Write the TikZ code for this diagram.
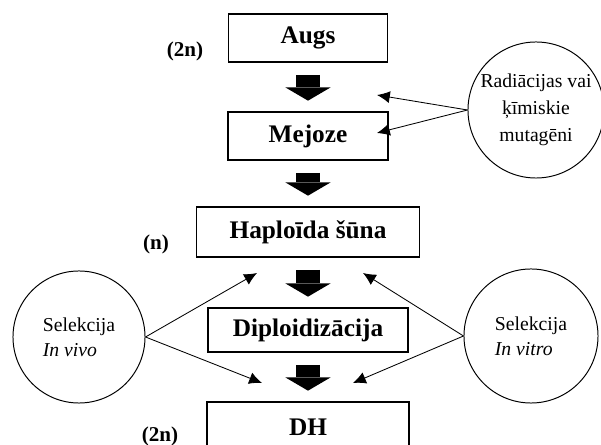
\documentclass[tikz,border=0pt]{standalone}
\usepackage{fontspec}
\setmainfont{Liberation Serif}
\usepackage{tikz}
\usetikzlibrary{arrows.meta,shapes,positioning}
\tikzstyle{stagebox} = [draw, line width=1.3pt, inner sep=0pt, font=\bfseries\fontsize{18}{21}\selectfont]
\tikzstyle{ploidy} = [font=\bfseries\fontsize{15}{17}\selectfont]
\tikzstyle{selcircle} = [draw, circle, line width=0.7pt, inner sep=0pt, font=\fontsize{14}{18}\selectfont]
\tikzstyle{thinarrow} = [line width=0.6pt, -{Latex[length=3.2mm,width=3mm]}]
\tikzstyle{blockarrow} = [line width=0.575cm, -{Triangle[length=0.33cm,width=1.125cm,line width=0pt]}, shorten <=0.3cm, shorten >=0.26cm]

\begin{document}
\begin{tikzpicture}[x=0.025cm, y=-0.025cm]
\useasboundingbox (0,0) rectangle (601,445);
\clip (0,0) rectangle (601,445);

% Stages
\node[stagebox, minimum width=3.975cm, minimum height=1.2cm] (augs) at (308,38) {Augs};
\node[stagebox, minimum width=4cm, minimum height=1.2cm] (mejoze) at (308,136) {Mejoze};
\node[stagebox, minimum width=5.575cm, minimum height=1.25cm] (haploid) at (308,232) {Haploīda šūna};
\node[stagebox, minimum width=5cm, minimum height=1.1cm] (diploid) at (308,330) {Diploidizācija};
\node[stagebox, minimum width=5.05cm, minimum height=1.25cm] (dh) at (308,427) {DH};

% Block arrows
\draw[blockarrow] (augs) -- (mejoze);
\draw[blockarrow] (mejoze) -- (haploid);
\draw[blockarrow] (haploid) -- (diploid);
\draw[blockarrow] (diploid) -- (dh);

% Ploidy
\node[ploidy] (p1) at (185,51) {(2n)};
\node[ploidy] (p2) at (156,244) {(n)};
\node[ploidy] (p3) at (160,436) {(2n)};

% Circles
\node[selcircle, minimum size=3.4cm, align=center, font=\fontsize{14}{19}\selectfont] (mutagen) at (536,110) {Radiācijas vai\\ķīmiskie\\mutagēni};
\node[selcircle, minimum size=3.3cm, align=left] (vivo) at (79,337) {Selekcija\\\textit{In vivo}};
\node[selcircle, minimum size=3.35cm, align=left] (vitro) at (531,336) {Selekcija\\\textit{In vitro}};

% Arrow ends
\coordinate (mutA) at (377,95);
\coordinate (mutB) at (377,133);
\coordinate (vivoA) at (257,273);
\coordinate (vivoB) at (262,383);
\coordinate (vitroA) at (363,273);
\coordinate (vitroB) at (353,383);

\draw[thinarrow] (mutagen.west) -- (mutA);
\draw[thinarrow] (mutagen.west) -- (mutB);
\draw[thinarrow] (vivo.east) -- (vivoA);
\draw[thinarrow] (vivo.east) -- (vivoB);
\draw[thinarrow] (vitro.west) -- (vitroA);
\draw[thinarrow] (vitro.west) -- (vitroB);
\end{tikzpicture}
\end{document}
